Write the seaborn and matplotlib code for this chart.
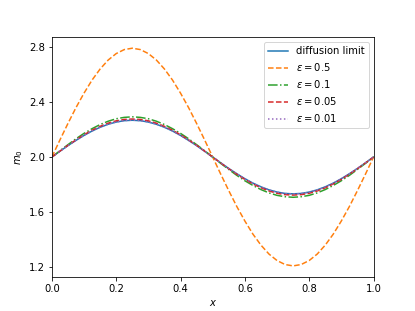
import numpy as np
import pandas as pd
import matplotlib
matplotlib.use("Agg")
import matplotlib.pyplot as plt
import seaborn as sns

# x grid
x = [i / 40 for i in range(41)]

# m_0 values
diffusion_limit = [
    2.000, 2.042, 2.083, 2.121, 2.157, 2.189, 2.216, 2.238, 2.254, 2.264, 2.267,
    2.264, 2.254, 2.238, 2.216, 2.189, 2.157, 2.121, 2.083, 2.042, 2.000,
    1.958, 1.917, 1.879, 1.843, 1.811, 1.784, 1.762, 1.746, 1.736, 1.733,
    1.736, 1.746, 1.762, 1.784, 1.811, 1.843, 1.879, 1.917, 1.958, 2.000,
]
eps_05 = [
    2.000, 2.124, 2.244, 2.359, 2.464, 2.559, 2.639, 2.704, 2.751, 2.780, 2.790,
    2.780, 2.751, 2.704, 2.639, 2.559, 2.464, 2.359, 2.244, 2.124, 2.000,
    1.876, 1.756, 1.641, 1.536, 1.441, 1.361, 1.296, 1.249, 1.220, 1.210,
    1.220, 1.249, 1.296, 1.361, 1.441, 1.536, 1.641, 1.756, 1.876, 2.000,
]
eps_01 = [
    2.000, 2.046, 2.090, 2.133, 2.172, 2.206, 2.236, 2.260, 2.278, 2.288, 2.292,
    2.288, 2.278, 2.260, 2.236, 2.206, 2.172, 2.133, 2.090, 2.046, 2.000,
    1.954, 1.910, 1.867, 1.828, 1.794, 1.764, 1.740, 1.722, 1.712, 1.708,
    1.712, 1.722, 1.740, 1.764, 1.794, 1.828, 1.867, 1.910, 1.954, 2.000,
]
eps_005 = [
    2.000, 2.043, 2.085, 2.125, 2.162, 2.195, 2.223, 2.246, 2.263, 2.273, 2.276,
    2.273, 2.263, 2.246, 2.223, 2.195, 2.162, 2.125, 2.085, 2.043, 2.000,
    1.957, 1.915, 1.875, 1.838, 1.805, 1.777, 1.754, 1.737, 1.727, 1.724,
    1.727, 1.737, 1.754, 1.777, 1.805, 1.838, 1.875, 1.915, 1.957, 2.000,
]
eps_001 = [
    2.000, 2.042, 2.083, 2.122, 2.158, 2.190, 2.217, 2.239, 2.255, 2.265, 2.268,
    2.265, 2.255, 2.239, 2.217, 2.190, 2.158, 2.122, 2.083, 2.042, 2.000,
    1.958, 1.917, 1.878, 1.842, 1.810, 1.783, 1.761, 1.745, 1.735, 1.732,
    1.735, 1.745, 1.761, 1.783, 1.810, 1.842, 1.878, 1.917, 1.958, 2.000,
]

series = [
    ("diffusion limit", diffusion_limit, "C0", "-"),
    (r"$\varepsilon = 0.5$", eps_05, "C1", "--"),
    (r"$\varepsilon = 0.1$", eps_01, "C2", "-."),
    (r"$\varepsilon = 0.05$", eps_005, "C3", "--"),
    (r"$\varepsilon = 0.01$", eps_001, "C4", ":"),
]

fig, ax = plt.subplots(figsize=(415 / 72, 311 / 72), dpi=72)

for label, vals, color, ls in series:
    sns.lineplot(x=x, y=vals, ax=ax, color=color, linestyle=ls, label=label)

ax.set_xlim(0, 1)
ax.set_yticks([1.2, 1.6, 2.0, 2.4, 2.8])
ax.set_xlabel(r"$x$")
ax.set_ylabel(r"$m_0$")
ax.legend(loc="upper right")

fig.savefig("out.png", dpi=72)
